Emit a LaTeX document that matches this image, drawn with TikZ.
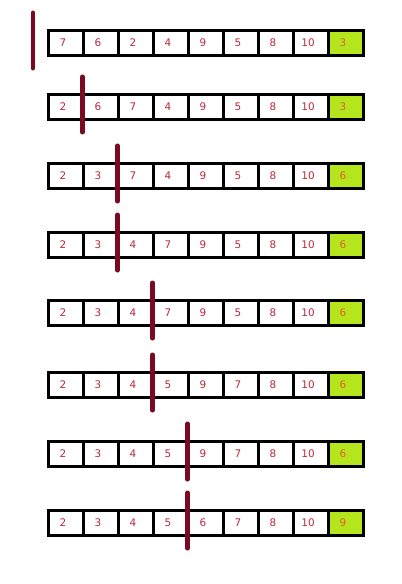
\documentclass[tikz,border=0pt]{standalone}
\usepackage{fontspec}
\setmainfont{DejaVu Sans}
\usepackage{tikz}
\usetikzlibrary{positioning}
\definecolor{numred}{HTML}{B8283C}
\definecolor{barred}{HTML}{7A0A22}
\definecolor{pivotgreen}{HTML}{B5E61D}
\definecolor{pivottext}{HTML}{E0602A}
\tikzset{
  cell/.style={draw, line width=3bp, minimum width=35bp, minimum height=25bp,
    inner sep=0pt, outer sep=0pt, text=numred, font=\fontsize{10.5}{12}\selectfont,
    execute at begin node={\kern-6bp}},
  pivotcell/.style={cell, fill=pivotgreen, text=pivottext},
  splitbar/.style={line width=4.6bp, color=barred, line cap=round}
}

\begin{document}
\begin{tikzpicture}[x=1bp,y=-1bp]
  \useasboundingbox (0,0) rectangle (401,584);
  % one row per pass: centre, first eight values, last value, bar position
  \foreach \r/\y/\vals/\pv/\bx in {
      1/43/{7,6,2,4,9,5,8,10}/3/33,
      2/107/{2,6,7,4,9,5,8,10}/3/82.5,
      3/176/{2,3,7,4,9,5,8,10}/6/117.5,
      4/245/{2,3,4,7,9,5,8,10}/6/117.5,
      5/313/{2,3,4,7,9,5,8,10}/6/152.5,
      6/385/{2,3,4,5,9,7,8,10}/6/152.5,
      7/454/{2,3,4,5,9,7,8,10}/6/187.5,
      8/523/{2,3,4,5,6,7,8,10}/9/187.5}{
    \foreach \v [count=\c] in \vals {
      \ifnum\c=1
        \node[cell] (r\r-1) at (66,\y) {\v};
      \else
        \pgfmathtruncatemacro\p{\c-1}
        \node[cell, right=0pt of r\r-\p] (r\r-\c) {\v};
      \fi
    }
    \node[pivotcell, right=0pt of r\r-8] (r\r-9) {\pv};
    \coordinate (bartop\r) at (\bx,\y-30.2);
    \coordinate (barbot\r) at (\bx,\y+25.2);
    \draw[splitbar] (bartop\r) -- (barbot\r);
  }
\end{tikzpicture}
\end{document}
